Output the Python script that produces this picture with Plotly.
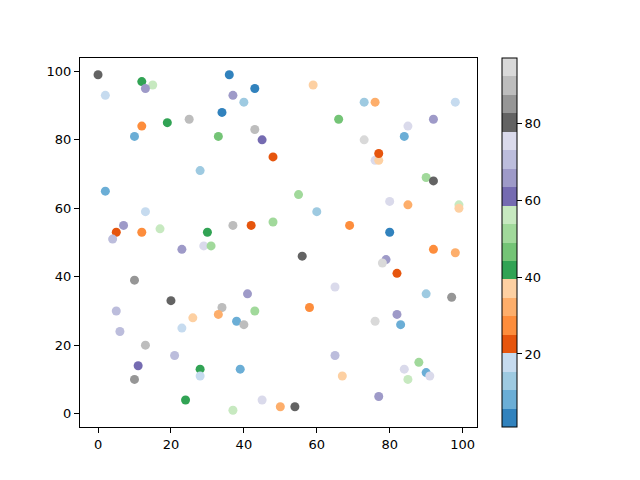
import plotly.graph_objects as go

# scatter points: x, y and colour value
x = [0, 2, 12, 15, 13, 36, 43, 37, 40, 34, 25, 19, 12, 10, 33, 43, 45, 48, 28, 2,
     13, 7, 5, 4, 12, 17, 30, 37, 42, 48, 23, 29, 31, 10, 20, 41, 5, 34, 43, 26,
     33, 38, 40, 6, 23, 13, 21, 11, 10, 28, 28, 39, 24, 37, 45, 50, 59, 73, 76, 98,
     66, 85, 92, 73, 84, 76, 77, 77, 90, 92, 55, 60, 80, 85, 99, 99, 69, 80, 56, 92,
     98, 79, 78, 82, 65, 90, 97, 58, 82, 76, 83, 65, 88, 84, 90, 91, 85, 67, 77, 54]
y = [99, 93, 97, 96, 95, 99, 95, 93, 91, 88, 86, 85, 84, 81, 81, 83, 80, 75, 71, 65,
     59, 55, 53, 51, 53, 54, 53, 55, 55, 56, 48, 49, 49, 39, 33, 35, 30, 31, 30, 28,
     29, 27, 26, 24, 25, 20, 17, 14, 10, 13, 11, 13, 4, 1, 4, 2, 96, 91, 91, 91,
     86, 84, 86, 80, 81, 74, 74, 76, 69, 68, 64, 59, 62, 61, 61, 60, 55, 53, 46, 48,
     47, 45, 44, 41, 37, 35, 34, 31, 29, 27, 26, 17, 15, 13, 12, 11, 10, 11, 5, 2]
c = [80, 18, 42, 56, 66, 3, 3, 66, 13, 3, 90, 42, 27, 8, 46, 90, 61, 22, 13, 8,
     18, 66, 22, 70, 27, 56, 42, 90, 22, 51, 66, 75, 51, 85, 80, 66, 70, 90, 51, 37,
     32, 8, 90, 70, 18, 90, 70, 61, 85, 42, 18, 8, 42, 56, 75, 32, 37, 13, 32, 18,
     46, 75, 66, 95, 8, 75, 37, 22, 51, 80, 51, 13, 75, 32, 56, 37, 27, 3, 80, 27,
     32, 66, 95, 22, 75, 13, 85, 27, 66, 95, 8, 70, 51, 75, 8, 75, 56, 37, 66, 80]

cbar_ticks = [20, 40, 60, 80]

tab20c = ["#3182bd", "#6baed6", "#9ecae1", "#c6dbef", "#e6550d", "#fd8d3c",
          "#fdae6b", "#fdd0a2", "#31a354", "#74c476", "#a1d99b", "#c7e9c0",
          "#756bb1", "#9e9ac8", "#bcbddc", "#dadaeb", "#636363", "#969696",
          "#bdbdbd", "#d9d9d9"]

# stepped colorscale, 20 bands
scale = []
n = len(tab20c)
for i, col in enumerate(tab20c):
    scale.append([i / n, col])
    scale.append([(i + 1) / n, col])

fig = go.Figure()
fig.add_trace(go.Scatter(
    x=x, y=y, mode="markers",
    marker=dict(
        size=9, color=c, colorscale=scale, cmin=1, cmax=97,
        line=dict(width=0),
        colorbar=dict(
            tickvals=cbar_ticks, ticks="outside", ticklen=5, tickcolor="black",
            thickness=15, len=1, lenmode="fraction", y=0.5, yanchor="middle",
            x=1.063, xanchor="left", xpad=0, ypad=0,
            outlinecolor="black", outlinewidth=1,
            tickfont=dict(size=13, color="black"),
        ),
    ),
    showlegend=False,
))

axis_style = dict(
    showgrid=False, zeroline=False, showline=True, mirror=True,
    linecolor="black", linewidth=1, ticks="outside", ticklen=5,
    tickcolor="black", tickfont=dict(size=13, color="black"), dtick=20,
)

# page body adds an 8px offset, so margins are trimmed by 8 on left/top
fig.update_layout(
    width=640, height=480,
    margin=dict(l=72, r=171, t=50, b=61),
    paper_bgcolor="white", plot_bgcolor="white",
    font=dict(family="DejaVu Sans", size=13, color="black"),
    xaxis=dict(range=[-4.95, 103.95], **axis_style),
    yaxis=dict(range=[-3.9, 103.9], **axis_style),
)

fig.write_html("out.html")
